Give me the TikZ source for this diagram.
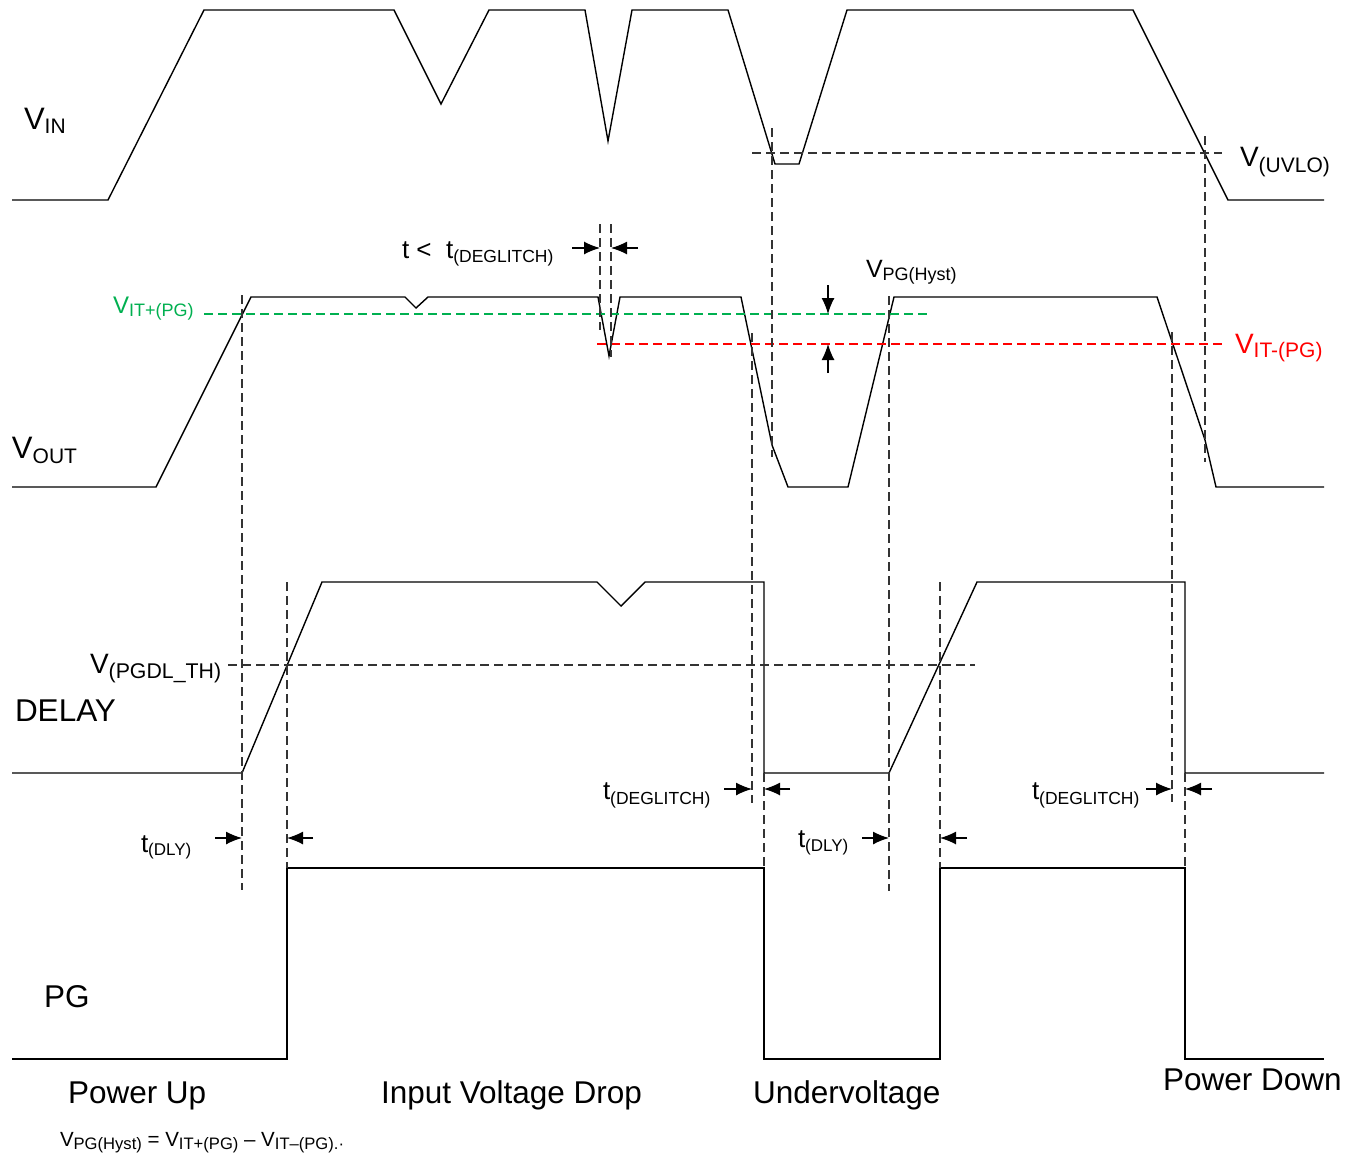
\documentclass[tikz,border=0pt]{standalone}
\usepackage{fontspec}
\setmainfont{Liberation Sans}
\usetikzlibrary{arrows.meta}
\definecolor{pggreen}{RGB}{0,176,80}
\definecolor{pgred}{RGB}{255,0,0}
\newcommand{\mylab}[5]{{\fontsize{#3}{#3}\selectfont #1}\raisebox{-#5pt}{\fontsize{#4}{#4}\selectfont #2}}
\newcommand{\bigtxt}[1]{{\fontsize{31.5}{31.5}\selectfont #1}}
\tikzset{
  wave/.style={line width=1.4pt, black, line join=miter},
  guide/.style={line width=1.1pt, black!80, dash pattern=on 9pt off 5pt},
  gthr/.style={line width=1.2pt, pggreen, dash pattern=on 9pt off 5pt},
  rthr/.style={line width=1.2pt, pgred, dash pattern=on 9pt off 5pt},
  lbl/.style={anchor=base west, inner sep=0pt, outer sep=0pt},
  dimarrow/.style={line width=1.3pt, -{Latex[length=16pt,width=13pt]}}
}
\begin{document}
\begin{tikzpicture}[x=1pt,y=-1pt]
\fill[white] (0,0) rectangle (1356,1156);
\useasboundingbox (0,0) rectangle (1356,1156);

% ---------- waveforms ----------
% VIN
\draw[wave] (12,200) -- (108,200) -- (204,10) -- (394,10) -- (441,104) -- (489,10)
  -- (585,10) -- (608,141) -- (632,10) -- (728,10) -- (775,164) -- (799,164)
  -- (847,10) -- (1133,10) -- (1228,200) -- (1324,200);
% VOUT
\draw[wave] (12,487) -- (156,487) -- (251,297) -- (405,297) -- (416,308) -- (428,297)
  -- (598,297) -- (609,356) -- (620,297) -- (741,297) -- (772,445) -- (788,487)
  -- (848,487) -- (894,297) -- (1157,297) -- (1205,440) -- (1216,487) -- (1324,487);
% DELAY
\draw[wave] (12,773) -- (242,773) -- (322,582) -- (597,582) -- (621,606) -- (645,582)
  -- (764,582) -- (764,773) -- (889,773) -- (977,582) -- (1185,582) -- (1185,773) -- (1324,773);
% PG
\draw[wave] (12,1059) -- (287,1059) -- (287,868) -- (764,868) -- (764,1059) -- (940,1059)
  -- (940,868) -- (1185,868) -- (1185,1059) -- (1324,1059);

% ---------- threshold lines ----------
\draw[guide] (752,153) -- (1222,153);
\draw[gthr] (204,314) -- (930,314);
\draw[rthr] (597,344) -- (1225,344);
\draw[guide] (228,665) -- (975,665);

% ---------- vertical guides ----------
\draw[guide] (242,295) -- (242,890);
\draw[guide] (287,582) -- (287,868);
\draw[guide] (600,224) -- (600,330);
\draw[guide] (611,224) -- (611,357);
\draw[guide] (752,333) -- (752,803);
\draw[guide] (764,773) -- (764,868);
\draw[guide] (772,128) -- (772,457);
\draw[guide] (889,296) -- (889,891);
\draw[guide] (940,582) -- (940,868);
\draw[guide] (1172,332) -- (1172,802);
\draw[guide] (1185,773) -- (1185,868);
\draw[guide] (1205,136) -- (1205,462);

% ---------- dimension arrows ----------
\coordinate (hA) at (828,285); \coordinate (hAe) at (828,314);
\coordinate (hB) at (828,373); \coordinate (hBe) at (828,344);
\draw[dimarrow] (hA) -- (hAe);
\draw[dimarrow] (hB) -- (hBe);
\draw[dimarrow] (572,248) -- (600,248);
\draw[dimarrow] (638,248) -- (611,248);
\draw[dimarrow] (215,838) -- (242,838);
\draw[dimarrow] (313,838) -- (287,838);
\draw[dimarrow] (862,838) -- (889,838);
\draw[dimarrow] (967,838) -- (940,838);
\draw[dimarrow] (724,789) -- (752,789);
\draw[dimarrow] (790,789) -- (764,789);
\draw[dimarrow] (1146,789) -- (1172,789);
\draw[dimarrow] (1212,789) -- (1185,789);

% ---------- labels ----------
\node[lbl] (vin) at (24,129) {\mylab{V}{IN}{31}{21}{4}};
\node[lbl] (vout) at (12,458) {\mylab{V}{OUT}{31}{21}{5}};
\node[lbl] (delay) at (15,721) {\bigtxt{DELAY}};
\node[lbl] (pg) at (44,1007) {\bigtxt{PG}};
\node[lbl, text=pggreen] (vitp) at (113,313) {\mylab{V}{IT+(PG)}{24}{18}{3}};
\node[lbl, text=pgred] (vitm) at (1235,353) {\mylab{V}{IT-(PG)}{28}{21}{4}};
\node[lbl] (uvlo) at (1240,166) {\mylab{V}{(UVLO)}{28}{21}{6}};
\node[lbl] (hyst) at (866,277) {\mylab{V}{PG(Hyst)}{25}{18}{3}};
\node[lbl] (tdg1) at (402,258) {\mylab{t < \ t}{(DEGLITCH)}{26}{17.5}{4}};
\node[lbl] (pgdl) at (90,673) {\mylab{V}{(PGDL\_TH)}{28}{21.3}{5}};
\node[lbl] (tdg2) at (603,799) {\mylab{t}{(DEGLITCH)}{26}{17.5}{5}};
\node[lbl] (tdg3) at (1032,799) {\mylab{t}{(DEGLITCH)}{26}{17.5}{5}};
\node[lbl] (tdly1) at (141,852) {\mylab{t}{(DLY)}{26}{17}{3}};
\node[lbl] (tdly2) at (798,847) {\mylab{t}{(DLY)}{26}{17}{4}};
\node[lbl] (pu) at (68,1103) {\bigtxt{Power Up}};
\node[lbl] (ivd) at (381,1103) {\bigtxt{Input Voltage Drop}};
\node[lbl] (uv) at (753,1103) {\bigtxt{Undervoltage}};
\node[lbl] (pd) at (1163,1090) {\bigtxt{Power Down}};
\node[lbl] (formula) at (60,1146) {\mylab{V}{PG(Hyst)}{20.5}{16.6}{3}{\fontsize{20.5}{20.5}\selectfont\ =\ }\mylab{V}{IT+(PG)}{20.5}{16.6}{3}{\fontsize{20.5}{20.5}\selectfont\ –\ }\mylab{V}{IT–(PG).·}{20.5}{16.6}{3}};
\end{tikzpicture}
\end{document}
